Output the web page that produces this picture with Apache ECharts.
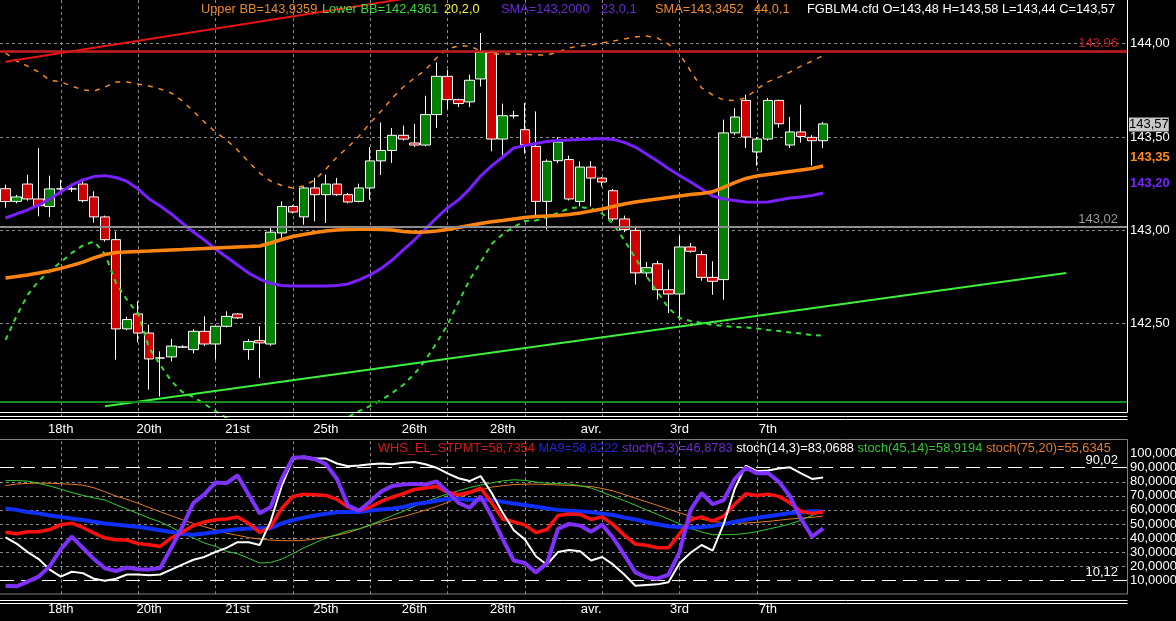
<!DOCTYPE html>
<html>
<head>
<meta charset="utf-8">
<title>FGBLM4.cfd</title>
<script src="https://cdn.jsdelivr.net/npm/echarts@6/dist/echarts.min.js"></script>
<style>
html, body { margin: 0; padding: 0; background: #000; }
#chart { width: 1176px; height: 621px; }
</style>
</head>
<body>
<div id="chart"></div>
<script>
// time axis: 102 bar slots, only the first 75 hold bars
var slotCount = 102;
var barCount = 75;
var labelIdx = [5, 13, 21, 29, 37, 45, 53, 61, 69];
var labelText = ['18th', '20th', '21st', '25th', '26th', '28th', 'avr.', '3rd', '7th'];
var gridFrom = 5, gridEvery = 7;          // vertical dashed grid, every 7 bars
var priceTicks = [142.5, 143, 143.5, 144];
var oscTicks = [20, 30, 40, 50, 60, 70, 80];

// [open, close, low, high]
var ohlc = [
  [143.223,143.154,143.121,143.245],[143.155,143.179,143.145,143.190],[143.248,143.168,143.159,143.298],
  [143.168,143.132,143.075,143.441],[143.128,143.222,143.072,143.293],[143.222,143.222,143.200,143.271],
  [143.222,143.222,143.205,143.250],[143.248,143.159,143.150,143.271],[143.179,143.072,143.041,143.209],
  [143.072,142.950,142.940,143.079],[142.950,142.472,142.307,142.994],[142.472,142.522,142.465,142.538],
  [142.552,142.450,142.400,142.620],[142.450,142.311,142.146,142.495],[142.316,142.316,142.110,142.352],
  [142.322,142.380,142.298,142.418],[142.375,142.375,142.370,142.385],[142.361,142.459,142.340,142.470],
  [142.459,142.391,142.380,142.539],[142.391,142.486,142.307,142.490],[142.486,142.539,142.480,142.566],
  [142.552,142.531,142.525,142.555],[142.361,142.404,142.307,142.418],[142.409,142.397,142.209,142.486],
  [142.391,142.990,142.380,143.021],[142.986,143.128,142.950,143.155],[143.128,143.098,143.090,143.135],
  [143.072,143.227,143.030,143.235],[143.227,143.191,143.048,143.281],[143.191,143.248,143.039,143.298],
  [143.248,143.191,143.185,143.281],[143.191,143.152,143.145,143.200],[143.155,143.227,143.150,143.250],
  [143.227,143.372,143.164,143.446],[143.372,143.428,143.296,143.578],[143.428,143.509,143.361,143.548],
  [143.509,143.489,143.480,143.561],[143.468,143.457,143.446,143.571],[143.457,143.620,143.450,143.721],
  [143.620,143.825,143.548,143.900],[143.825,143.700,143.650,143.860],[143.700,143.679,143.660,143.705],
  [143.688,143.804,143.660,143.834],[143.811,143.953,143.771,144.057],[143.953,143.489,143.423,143.965],
  [143.489,143.614,143.400,143.679],[143.614,143.614,143.600,143.640],[143.539,143.459,143.411,143.682],
  [143.450,143.155,143.075,143.637],[143.155,143.370,143.004,143.380],[143.373,143.473,143.360,143.500],
  [143.379,143.168,143.160,143.400],[143.155,143.339,143.128,143.370],[143.339,143.280,143.128,143.370],
  [143.280,143.259,143.235,143.285],[143.212,143.061,143.050,143.221],[143.061,143.004,142.990,143.079],
  [143.000,142.772,142.709,143.021],[142.772,142.800,142.750,142.830],[142.821,142.682,142.629,142.837],
  [142.682,142.659,142.557,142.789],[142.659,142.911,142.521,142.971],[142.911,142.888,142.880,142.932],
  [142.870,142.748,142.730,142.890],[142.748,142.727,142.655,142.834],[142.736,143.522,142.629,143.593],
  [143.522,143.607,143.510,143.655],[143.696,143.500,143.441,143.727],[143.420,143.489,143.346,143.500],
  [143.489,143.696,143.480,143.709],[143.696,143.571,143.550,143.700],[143.457,143.527,143.441,143.607],
  [143.527,143.503,143.470,143.673],[143.498,143.480,143.346,143.510],[143.480,143.570,143.440,143.580]
];

var sma23 = [143.066,143.088,143.109,143.136,143.168,143.205,143.243,143.270,143.288,143.293,
  143.283,143.262,143.221,143.168,143.130,143.088,143.039,142.991,142.948,142.900,
  142.857,142.814,142.771,142.739,142.715,142.705,142.702,142.702,142.702,142.702,
  142.705,142.713,142.734,142.761,142.796,142.841,142.895,142.948,143.007,143.066,
  143.120,143.163,143.221,143.291,143.345,143.393,143.441,143.455,143.465,143.476,
  143.481,143.484,143.487,143.489,143.492,143.487,143.471,143.446,143.409,143.371,
  143.331,143.294,143.259,143.221,143.184,143.168,143.160,143.152,143.150,143.152,
  143.163,143.173,143.179,143.187,143.200];

var sma44 = [142.745,142.753,142.761,142.771,142.782,142.796,142.812,142.830,142.852,142.871,
  142.881,142.884,142.887,142.889,142.892,142.895,142.897,142.900,142.903,142.905,
  142.908,142.911,142.913,142.916,142.932,142.951,142.967,142.978,142.988,142.996,
  143.002,143.004,143.006,143.006,143.004,143.002,142.994,142.990,142.991,142.996,
  143.004,143.015,143.026,143.037,143.046,143.053,143.061,143.069,143.074,143.077,
  143.080,143.085,143.093,143.104,143.114,143.128,143.141,143.152,143.160,143.168,
  143.176,143.184,143.192,143.197,143.207,143.230,143.256,143.278,143.291,143.299,
  143.307,143.315,143.323,143.331,143.345];

var bbUpper = [143.950,143.907,143.880,143.848,143.805,143.795,143.773,143.752,143.746,143.768,
  143.795,143.795,143.784,143.773,143.757,143.736,143.693,143.639,143.580,143.527,
  143.484,143.430,143.366,143.307,143.264,143.240,143.227,143.238,143.270,143.329,
  143.393,143.446,143.505,143.575,143.639,143.709,143.768,143.816,143.859,143.923,
  143.971,143.988,143.988,143.961,143.945,143.945,143.945,143.943,143.939,143.939,
  143.955,143.977,143.988,143.993,144.004,144.014,144.025,144.036,144.041,144.030,
  143.998,143.945,143.854,143.763,143.725,143.698,143.696,143.709,143.757,143.795,
  143.821,143.848,143.880,143.907,143.936];

var bbLower = [142.413,142.541,142.654,142.729,142.782,142.830,142.879,142.919,142.940,142.873,
  142.718,142.627,142.552,142.370,142.279,142.193,142.134,142.107,142.070,142.032,
  141.995,141.957,141.930,141.904,141.877,141.861,141.855,141.861,141.888,141.925,
  141.963,142.000,142.032,142.059,142.091,142.129,142.172,142.230,142.305,142.396,
  142.493,142.616,142.734,142.830,142.927,142.980,143.018,143.050,143.053,143.071,
  143.093,143.117,143.125,143.117,143.090,143.034,142.948,142.852,142.755,142.670,
  142.584,142.530,142.514,142.504,142.493,142.488,142.482,142.480,142.474,142.466,
  142.461,142.453,142.447,142.439,142.436];

// drawn trend lines [bar, price]
var redTrend = [[0, 143.903], [40, 144.277]];
var greenTrend = [[9, 142.058], [96, 142.771]];
var levelRed = 143.96, levelGray = 143.02, levelGreen = 142.08;

// oscillators
var stpmt = [44,43,44.5,44.5,46,49.5,50.5,47.5,43.5,40,
  38.8,38.5,36,35.2,34,40,44,48.8,51.4,53,
  53.5,55,50.5,44,48,61,69.5,71.2,70.8,70.3,
  67.5,62,59.5,62,66,69,71.5,74.5,75.6,76.7,
  72.5,70.8,72.5,75.5,65,53.5,51.5,49.3,43.8,46,
  56,57,56.7,53.2,55,49.5,42,35.7,34.8,33,
  33,43,53,55,52,55.5,64,71.5,70.3,71.2,
  69.6,65,59,57.5,58.7];

var ma9 = [61,60,58.5,57.5,56,55,53.8,52.8,51.5,50.3,
  49.5,48.7,48,46.8,45.5,44.2,42.8,42.3,43.2,44.2,
  45.3,46.2,46.8,47,47,50.5,52.7,54.5,56,57.2,
  58.3,58.5,58.5,59.5,60.2,60.8,62,64,65,66.5,
  67.7,67.8,67.2,67.2,67.1,65.7,64.5,63.5,62.3,61,
  60,59.4,59,58.4,57.3,56.4,54.5,53.2,51.2,49.8,
  48.4,47.8,47.5,47.8,48.6,50,51.5,53,54.4,55.4,
  56.5,57.8,58.5,59,58.8];

var stoch5 = [6,5.6,9,12.5,20,32,41,33,25,18.5,
  16.5,19,17.8,17.5,18.6,33,48,65,71,79.5,
  79,84.5,71,57.5,62,82,97,97.5,96,92.5,
  82,63,59.5,66,73,77,78,78.5,78,80.3,
  73,65,61.5,69.5,55.5,39,24,22.2,15.5,22,
  46.5,50,48.8,44.5,49.5,40,28,15.5,12,11,
  14,30,60,72,64,67,82,90,86,86.2,
  80,69.6,53.5,41,46.9];

var stoch14 = [40.5,36,30,25,17.5,12.5,16,15,11,9.5,
  11,14,14,13.5,14,17.5,21,24.5,26.5,30,
  33,37,37,35,52,77,96,98,96.5,96.5,
  93,91,91.5,92.5,93,92.5,93.5,94,92.5,90,
  86,82.5,80.5,84,72,58,45.5,39,27,21,
  30,31.5,30.5,24,26.5,21,14,6,6.5,7,
  8.5,22,29.5,35,31,50,75,91.5,87.5,88,
  89.5,90.3,86,82,83.1];

var stoch45 = [80.8,80.8,80.5,78.9,77,74.7,72.3,70.3,68.5,67,
  63.6,60.5,57.4,54.2,51.4,47.7,43.5,40,36.4,34,
  30.5,28.8,25.6,22.2,22.5,25,28.8,33,36.5,40,
  42.5,45,46.5,49.3,52.5,55.9,59,62.5,65.8,68.7,
  71.3,73.6,75.9,77.6,79.2,80.6,81.4,81,79.8,79,
  78.7,78.4,77.2,75.5,72.7,69.4,66.6,63.3,60,56.8,
  53.5,50.1,46.8,44.3,42.3,42.3,42.5,43.2,44.5,46.3,
  48,50,52.6,56,58.9];

var stoch75 = [77.3,78.4,78.8,79,79,78.6,78.2,77.6,75.7,72.9,
  69.8,67.4,64.7,61.6,58.7,55.8,53,50.4,48,45.8,
  43.5,41.9,40.3,39.2,38.5,38.1,38,38.3,39.3,40.5,
  41.9,43.8,46.4,49,51.4,53.4,55.2,57.5,59.8,62.4,
  65.3,68.5,71.7,74.1,76.2,77.2,78,78.3,78.3,78,
  77.7,77.4,77,76.6,75.2,73.5,70.9,68.3,65.8,63.2,
  60.6,57.9,55.3,53.4,51.7,51,50.6,50.6,51.1,51.8,
  52.6,53.5,54.1,54.7,55.6];
var oscHigh = 90.02, oscLow = 10.12;

var font = '"Liberation Sans", Arial, sans-serif';
var slots = [];
for (var s = 0; s < slotCount; s++) slots.push(String(s));

function dayName(i) {
  var k = labelIdx.indexOf(i);
  return k < 0 ? '' : labelText[k];
}
function comma(v, d) { return v.toFixed(d).replace('.', ','); }
function vGrid() {
  var out = [];
  for (var i = gridFrom; i < barCount; i += gridEvery) out.push({ xAxis: i });
  return out;
}

var dashGray = { color: '#8a8a8a', type: [3, 3], width: 1 };

function timeAxis(grid, margin) {
  return {
    type: 'category', gridIndex: grid, data: slots, boundaryGap: true,
    axisLine: { show: false }, axisTick: { show: false }, splitLine: { show: false },
    axisLabel: {
      interval: function (i) { return labelIdx.indexOf(i) >= 0; },
      formatter: function (v, i) { return dayName(i); },
      color: '#fff', fontSize: 13, fontFamily: font, margin: margin
    }
  };
}

function line(name, data, color, width, grid, dash) {
  return {
    name: name, type: 'line', data: data, xAxisIndex: grid, yAxisIndex: grid,
    showSymbol: false, symbol: 'none', z: 3, silent: true,
    lineStyle: { color: color, width: width, type: dash || 'solid' }
  };
}

var chart = echarts.init(document.getElementById('chart'));

var headFont = '12.8px ' + font;
var headTop = [
  ['Upper BB=143,9359', 201, '#e8892a'],
  ['Lower BB=142,4361', 322, '#3cdc3c'],
  ['20,2,0', 444, '#f0f030'],
  ['SMA=143,2000', 501, '#6b2ad8'],
  ['23,0,1', 601, '#6b2ad8'],
  ['SMA=143,3452', 655, '#f08c28'],
  ['44,0,1', 754, '#f08c28'],
  ['FGBLM4.cfd O=143,48 H=143,58 L=143,44 C=143,57', 807, '#ffffff']
];

var graphics = headTop.map(function (h) {
  return { type: 'text', x: h[1], y: 9, z: 50,
    style: { text: h[0], fill: h[2], font: headFont, verticalAlign: 'middle' } };
});

graphics.push({
  type: 'text', x: 378, y: 448, z: 50,
  style: {
    text: '{a|WHS_EL_STPMT=58,7354} {b|MA9=58,8222} {c|stoch(5,3)=46,8783} {d|stoch(14,3)=83,0688} {e|stoch(45,14)=58,9194} {f|stoch(75,20)=55,6345}',
    font: headFont, verticalAlign: 'middle',
    rich: {
      a: { fill: '#d41a1a', font: headFont },
      b: { fill: '#2424d8', font: headFont },
      c: { fill: '#6e2ad4', font: headFont },
      d: { fill: '#ffffff', font: headFont },
      e: { fill: '#30c830', font: headFont },
      f: { fill: '#e07a28', font: headFont }
    }
  }
});

// last-value tags on the price scale
graphics.push(
  { type: 'text', x: 1129, y: 124.5, z: 50,
    style: { text: '143,57', fill: '#000', backgroundColor: '#c8c8c8', font: '13px ' + font,
      verticalAlign: 'middle', padding: [1, 0, 0, 0] } },
  { type: 'text', x: 1130, y: 157, z: 50,
    style: { text: '143,35', fill: '#ff8a1a', font: 'bold 13px ' + font, verticalAlign: 'middle' } },
  { type: 'text', x: 1130, y: 183.5, z: 50,
    style: { text: '143,20', fill: '#7a22ff', font: 'bold 13px ' + font, verticalAlign: 'middle' } }
);

// panel frames
function seg(x1, y1, x2, y2, c) {
  return { type: 'line', z: 60, silent: true, shape: { x1: x1, y1: y1, x2: x2, y2: y2 },
    style: { stroke: c, lineWidth: 1 } };
}
graphics.push(
  seg(1127.5, 0, 1127.5, 412.5, '#fff'),
  seg(0, 412.5, 1127.5, 412.5, '#fff'),
  seg(0, 416.5, 1127.5, 416.5, '#fff'),
  seg(0, 419.5, 1127.5, 419.5, '#fff'),
  seg(0, 439.5, 1127.5, 439.5, '#808080'),
  seg(1127.5, 439.5, 1127.5, 594, '#808080'),
  seg(0, 594, 1127.5, 594, '#808080'),
  seg(0, 600.5, 1127.5, 600.5, '#fff'),
  seg(0, 603.5, 1127.5, 603.5, '#fff')
);

var endLabel = function (text, color) {
  return { show: true, formatter: text, position: 'insideEndTop', color: color,
    fontSize: 13, fontFamily: font, distance: 1, padding: [0, 8, 0, 0] };
};

var upperGrid = vGrid().concat(priceTicks.map(function (v) { return { yAxis: v }; }));
var lowerGrid = vGrid().concat(oscTicks.map(function (v) { return { yAxis: v }; }));
lowerGrid.push(
  { yAxis: oscHigh, lineStyle: { color: '#fff', type: [14, 7], width: 1 }, label: endLabel('90,02', '#fff') },
  { yAxis: oscLow, lineStyle: { color: '#fff', type: [14, 7], width: 1 }, label: endLabel('10,12', '#fff') }
);

var redLine = line('trend', redTrend, '#e81414', 2, 0);
redLine.markLine = {
  z: 4, symbol: 'none', silent: true, animation: false, label: { show: false },
  data: [
    { yAxis: levelRed, lineStyle: { color: '#c81e1e', width: 2.5, type: 'solid' }, label: endLabel('143,96', '#b82020') },
    { yAxis: levelGray, lineStyle: { color: '#8c8c8c', width: 2, type: 'solid' }, label: endLabel('143,02', '#9a9a9a') },
    { yAxis: levelGreen, lineStyle: { color: '#1a8a1a', width: 2, type: 'solid' } }
  ]
};

var orangeOsc = line('stoch(75,20)', stoch75, '#e07a28', 1, 1);
orangeOsc.markLine = {
  z: 1, symbol: 'none', silent: true, animation: false, label: { show: false },
  lineStyle: dashGray, data: lowerGrid
};

var option = {
  backgroundColor: '#000',
  animation: false,
  textStyle: { fontFamily: font },
  grid: [
    { left: 0, right: 49, top: -3, height: 420, containLabel: false, outerBoundsMode: 'none' },
    { left: 0, right: 49, top: 439.6, height: 154.6, containLabel: false, outerBoundsMode: 'none' }
  ],
  xAxis: [timeAxis(0, 6), timeAxis(1, 9)],
  yAxis: [
    {
      type: 'value', gridIndex: 0, position: 'right', min: 142, max: 144.25, interval: 0.5,
      axisLine: { show: false }, axisTick: { show: false }, splitLine: { show: false },
      axisLabel: {
        color: '#fff', fontSize: 13, fontFamily: font, margin: 3,
        formatter: function (v) { return priceTicks.indexOf(v) >= 0 ? comma(v, 2) : ''; }
      }
    },
    {
      type: 'value', gridIndex: 1, position: 'right', min: 0, max: 110, interval: 10,
      axisLine: { show: false }, axisTick: { show: false }, splitLine: { show: false },
      axisLabel: {
        color: '#fff', fontSize: 13, fontFamily: font, margin: 3,
        formatter: function (v) {
          if (v === 100) return '100,000';
          if (v >= 10 && v <= 90) return v + ',0000';
          return '';
        }
      }
    }
  ],
  series: [
    {
      name: 'FGBLM4.cfd', type: 'candlestick', data: ohlc, xAxisIndex: 0, yAxisIndex: 0,
      barWidth: 10, z: 2, silent: true,
      itemStyle: { color: '#008000', color0: '#d00000', borderColor: '#fff', borderColor0: '#fff',
        borderColorDoji: '#fff', borderWidth: 1 },
      markLine: { z: 1, symbol: 'none', silent: true, animation: false, label: { show: false },
        lineStyle: dashGray, data: upperGrid }
    },
    line('Upper BB', bbUpper, '#f08a24', 1.5, 0, [5, 6]),
    line('Lower BB', bbLower, '#33dd33', 2, 0, [5, 5]),
    line('SMA 23', sma23, '#7a1fff', 3, 0),
    line('SMA 44', sma44, '#ff8410', 3.5, 0),
    redLine,
    line('trend2', greenTrend, '#3cf03c', 2, 0),

    orangeOsc,
    line('stoch(45,14)', stoch45, '#33cc33', 1, 1),
    line('MA9', ma9, '#1030ff', 4, 1),
    line('WHS_EL_STPMT', stpmt, '#ff1010', 3.5, 1),
    line('stoch(14,3)', stoch14, '#ffffff', 2, 1),
    line('stoch(5,3)', stoch5, '#8030ff', 4, 1)
  ],
  graphic: { elements: graphics }
};

chart.setOption(option);
</script>
</body>
</html>
